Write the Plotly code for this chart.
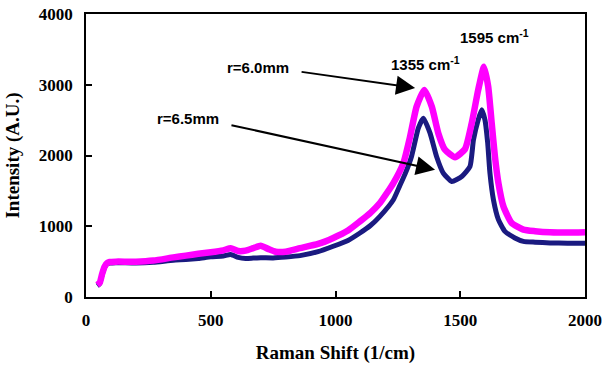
import plotly.graph_objects as go

# r = 6.0 mm (magenta)
x_60 = [45, 55, 65, 75, 85, 95, 120, 200, 270, 350, 400, 450, 500, 550, 580, 610, 640,
        670, 700, 730, 760, 800, 858, 930, 991, 1050, 1098, 1140, 1178, 1232, 1272,
        1299, 1325, 1356, 1386, 1412, 1439, 1479, 1519, 1546, 1572, 1595, 1612, 1626,
        1639, 1653, 1673, 1706, 1753, 1800, 1860, 1930, 2000]
y_60 = [170, 200, 330, 430, 480, 495, 500, 500, 515, 560, 585, 610, 632, 660, 690, 650,
        655, 690, 725, 680, 640, 640, 690, 750, 835, 940, 1069, 1190, 1328, 1611, 1893,
        2268, 2691, 2927, 2691, 2316, 2080, 1977, 2090, 2457, 2927, 3255, 2974, 2457,
        1986, 1611, 1281, 1046, 952, 930, 914, 910, 914]

# r = 6.5 mm (navy)
x_65 = [45, 55, 65, 75, 85, 95, 120, 200, 270, 350, 400, 450, 500, 550, 580, 610, 640,
        670, 700, 750, 800, 858, 930, 991, 1050, 1098, 1140, 1178, 1232, 1256, 1279,
        1305, 1332, 1352, 1379, 1405, 1432, 1466, 1506, 1539, 1553, 1572, 1586, 1599,
        1610, 1619, 1633, 1653, 1679, 1719, 1753, 1800, 1860, 1930, 2000]
y_65 = [160, 190, 320, 420, 470, 480, 485, 480, 490, 520, 529, 545, 567, 580, 600, 560,
        545, 550, 555, 553, 565, 585, 640, 717, 800, 905, 1010, 1140, 1375, 1560, 1740,
        1990, 2386, 2527, 2316, 1986, 1752, 1633, 1704, 1845, 2221, 2504, 2645, 2504,
        2175, 1752, 1375, 1093, 928, 835, 787, 775, 764, 760, 760]

x_ticks = [0, 500, 1000, 1500, 2000]
y_ticks = [0, 1000, 2000, 3000, 4000]

fig = go.Figure()
fig.add_trace(go.Scatter(x=x_65, y=y_65, mode="lines",
                         line=dict(color="#1a1a80", width=5, shape="spline", smoothing=0.5),
                         name="r=6.5mm"))
fig.add_trace(go.Scatter(x=x_60, y=y_60, mode="lines",
                         line=dict(color="#ff00ff", width=6.5, shape="spline", smoothing=0.5),
                         name="r=6.0mm"))

lab_font = dict(family="Liberation Sans, Arial", size=15, color="black", weight="bold")

fig.add_annotation(x=1319, y=2955, ax=858, ay=3185, axref="x", ayref="y", xref="x", yref="y",
                   showarrow=True, arrowhead=2, arrowsize=1.9, arrowwidth=2, arrowcolor="black",
                   text="")
fig.add_annotation(x=1399, y=1798, ax=577, ay=2433, axref="x", ayref="y", xref="x", yref="y",
                   showarrow=True, arrowhead=2, arrowsize=1.9, arrowwidth=2, arrowcolor="black",
                   text="")
fig.add_annotation(x=690, y=3250, text="r=6.0mm", showarrow=False, font=lab_font)
fig.add_annotation(x=409, y=2530, text="r=6.5mm", showarrow=False, font=lab_font)
fig.add_annotation(x=1359, y=3300, text="1355 cm<sup>-1</sup>", showarrow=False, font=lab_font)
fig.add_annotation(x=1639, y=3680, text="1595 cm<sup>-1</sup>", showarrow=False, font=lab_font)

tick_font = dict(family="Liberation Serif, Times New Roman", size=17, color="black", weight="bold")
title_font = dict(family="Liberation Serif, Times New Roman", size=19, color="black", weight="bold")

fig.update_layout(
    width=602, height=367,
    margin=dict(l=86, r=17, t=14, b=70),
    plot_bgcolor="white", paper_bgcolor="white",
    showlegend=False,
    xaxis=dict(range=[0, 2000], tickvals=x_ticks, ticks="inside", ticklen=6, tickwidth=1.5,
               tickcolor="black", showline=True, mirror=True, linecolor="black", linewidth=1.5,
               showgrid=False, zeroline=False, tickfont=tick_font, ticklabelstandoff=7,
               automargin=False, ticklabeloverflow="allow",
               title=dict(text="Raman Shift (1/cm)", font=title_font, standoff=17)),
    yaxis=dict(range=[0, 4000], tickvals=y_ticks, ticks="inside", ticklen=6, tickwidth=1.5,
               tickcolor="black", showline=True, mirror=True, linecolor="black", linewidth=1.5,
               showgrid=False, zeroline=False, tickfont=tick_font, ticklabelstandoff=8,
               automargin=False, ticklabeloverflow="allow",
               title=dict(text="Intensity (A.U.)", font=title_font, standoff=14)),
)

fig.write_html("out.html", config={"displayModeBar": False},
               post_script="document.body.style.margin='0';document.body.style.overflow='hidden';")
